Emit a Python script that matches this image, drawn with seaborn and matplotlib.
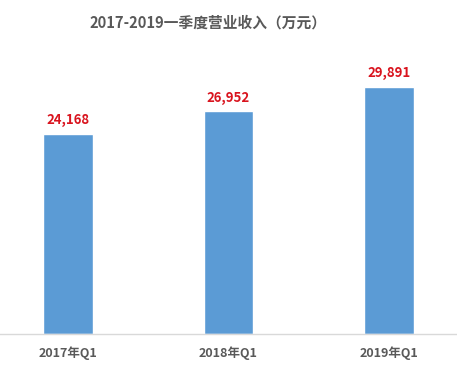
import matplotlib
matplotlib.use("Agg")
import matplotlib.pyplot as plt
import seaborn as sns
import pandas as pd

categories = ["2017年Q1", "2018年Q1", "2019年Q1"]
revenue = [24168, 26952, 29891]
title = "2017-2019一季度营业收入（万元）"

sns.set_theme(style="white")
plt.rcParams['font.family'] = ['Noto Sans CJK SC', 'DejaVu Sans']

df = pd.DataFrame({"q": categories, "v": revenue})

fig = plt.figure(figsize=(4.57, 3.67), dpi=100)
ax = fig.add_axes([0, (367 - 334) / 367, 1, (334 - 45) / 367])
sns.barplot(data=df, x="q", y="v", order=categories, color="#5B9BD5",
            saturation=1, width=0.31, ax=ax)
ax.set_xlim(-0.424, 2.424)
ax.set_ylim(0, 35000)
ax.set_xlabel("")
ax.set_ylabel("")
ax.set_yticks([])
for s in ["top", "left", "right"]:
    ax.spines[s].set_visible(False)
ax.spines["bottom"].set_color("#D9D9D9")
ax.spines["bottom"].set_linewidth(1.0)
ax.tick_params(axis="x", length=0, pad=9, labelsize=9, colors="#595959")
for lbl in ax.get_xticklabels():
    lbl.set_fontweight("bold")

for i, v in enumerate(revenue):
    ax.annotate(f"{v:,}", (i, v), xytext=(0, 5), textcoords="offset points",
                ha="center", va="bottom", color="#D9141E", fontsize=9.5,
                fontweight="bold")

fig.text(208 / 457, 1 - 23 / 367, title, ha="center", va="center",
         fontsize=10.6, fontweight="bold", color="#595959")

fig.savefig("out.png", dpi=100)
